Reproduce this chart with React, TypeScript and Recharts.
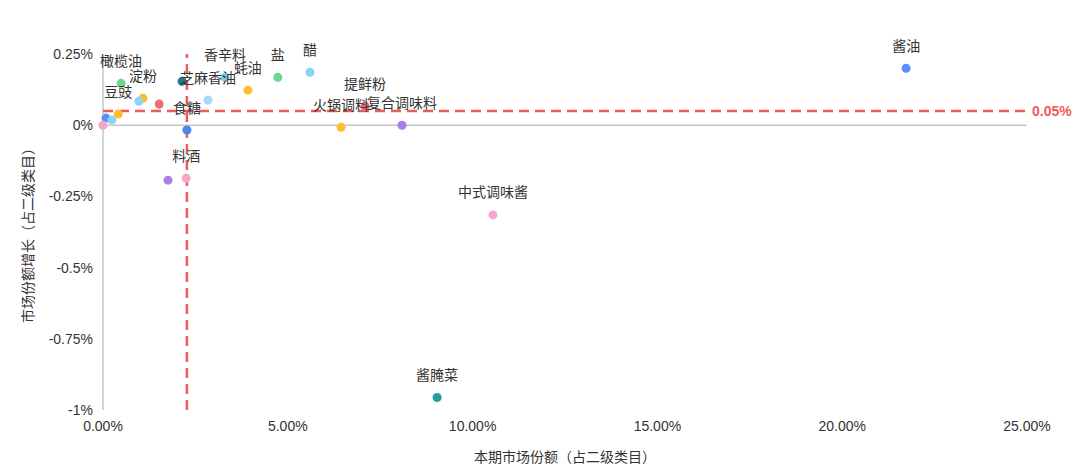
import { ScatterChart, Scatter, XAxis, YAxis, ZAxis, ReferenceLine, LabelList, Cell } from 'recharts';

// 本期市场份额 / 市场份额增长 (both in %)
const names = [
  '酱油', '醋', '盐', '蚝油', '香辛料', '芝麻香油', '食糖', '料酒', '', '橄榄油', '淀粉', '豆豉',
  '', '', '', '', '', '', '提鲜粉', '火锅调料', '复合调味料', '中式调味酱', '酱腌菜',
];
const share = [
  21.73, 5.6, 4.73, 3.92, 3.3, 2.84, 2.27, 2.25, 2.14, 0.49, 1.08, 0.41,
  0.97, 1.52, 0.08, 0.24, 0.0, 1.76, 7.09, 6.44, 8.09, 10.55, 9.04,
];
const growth = [
  0.2, 0.186, 0.168, 0.123, 0.168, 0.088, -0.017, -0.186, 0.154, 0.147, 0.095, 0.039,
  0.084, 0.074, 0.025, 0.018, 0.0, -0.193, 0.067, -0.007, 0.0, -0.315, -0.956,
];
const colors = [
  '#5B8FF9', '#8ED3F7', '#6FD48E', '#FBBF2E', '#7CCDF0', '#A8D8F5', '#4E86EE', '#F4A6C3', '#1F7A8C', '#6FD48E', '#FBBF2E', '#FBBF2E',
  '#8ED3F7', '#F06A7A', '#5B8FF9', '#8ED3F7', '#F4A6C3', '#A77FE6', '#F06A7A', '#FBBF2E', '#A77FE6', '#F7A3CF', '#2A9BA0',
];

const xTicks = [0, 5, 10, 15, 20, 25];
const yTicks = [-1, -0.75, -0.5, -0.25, 0, 0.25];
const shareLine = 2.27;
const growthLine = 0.05;

const data = names.map((name, i) => ({ name, share: share[i], growth: growth[i] }));

const font = 'Liberation Sans, "Noto Sans CJK SC", sans-serif';
const red = '#F05A5A';

export default function App() {
  return (
    <div style={{ position: 'absolute', left: 0, top: 0, width: 1080, height: 473, background: '#fff', fontFamily: font }}>
      <ScatterChart width={1080} height={473} margin={{ top: 54, right: 53, bottom: 3, left: 0 }}>
        <XAxis
          type="number"
          dataKey="share"
          domain={[0, 25]}
          ticks={xTicks}
          tickFormatter={(v) => `${v.toFixed(2)}%`}
          axisLine={false}
          tickLine={false}
          tickSize={0}
          tickMargin={11}
          height={60}
          tick={{ fontSize: 14, fill: '#333', fontFamily: font }}
          label={{ value: '本期市场份额（占二级类目）', position: 'insideBottom', offset: 8, fontSize: 14, fill: '#333', fontFamily: font }}
        />
        <YAxis
          type="number"
          dataKey="growth"
          domain={[-1, 0.25]}
          ticks={yTicks}
          tickFormatter={(v) => `${v}%`}
          axisLine={false}
          tickLine={false}
          tickSize={0}
          tickMargin={10}
          width={103}
          tick={{ fontSize: 14, fill: '#333', fontFamily: font }}
          label={{ value: '市场份额增长（占二级类目）', angle: -90, position: 'insideLeft', offset: 28, textAnchor: 'middle', fontSize: 14, fill: '#333', fontFamily: font }}
        />
        <ZAxis range={[100, 100]} />
        <ReferenceLine y={0} stroke="#aaa" strokeWidth={1} />
        <ReferenceLine x={0} stroke="#aaa" strokeWidth={1} />
        <ReferenceLine
          y={growthLine}
          stroke={red}
          strokeWidth={2.5}
          strokeDasharray="10 6"
          label={{ value: '0.05%', position: 'right', fill: red, fontSize: 14, fontWeight: 'bold', fontFamily: font }}
        />
        <ReferenceLine x={shareLine} stroke={red} strokeWidth={2.5} strokeDasharray="10 6" />
        <Scatter data={data} isAnimationActive={false}>
          {data.map((d, i) => (
            <Cell key={i} fill={colors[i]} />
          ))}
          <LabelList dataKey="name" position="top" offset={13} fontSize={14} fill="#333" fontFamily={font} />
        </Scatter>
      </ScatterChart>
    </div>
  );
}
